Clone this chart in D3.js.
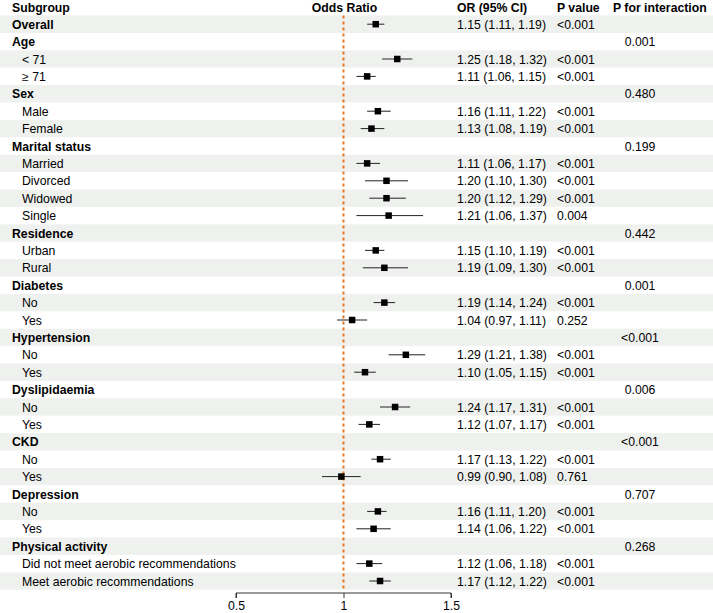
<!DOCTYPE html>
<html>
<head>
<meta charset="utf-8">
<script src="https://d3js.org/d3.v7.min.js"></script>
<style>
  body { margin: 0; background: #fff; }
  text { font-family: "Liberation Sans", Arial, sans-serif; font-size: 12.25px; fill: #000; }
</style>
</head>
<body>
<div id="chart"></div>
<script>
  // Forest plot data
  const labels = ['Overall', 'Age', '< 71', '\u2265 71', 'Sex', 'Male', 'Female',
    'Marital status', 'Married', 'Divorced', 'Widowed', 'Single',
    'Residence', 'Urban', 'Rural', 'Diabetes', 'No', 'Yes',
    'Hypertension', 'No', 'Yes', 'Dyslipidaemia', 'No', 'Yes',
    'CKD', 'No', 'Yes', 'Depression', 'No', 'Yes',
    'Physical activity', 'Did not meet aerobic recommendations', 'Meet aerobic recommendations'];
  // 1 = group heading (bold, not indented)
  const isGroup = [1, 1, 0, 0, 1, 0, 0, 1, 0, 0, 0, 0, 1, 0, 0, 1, 0, 0, 1, 0, 0, 1, 0, 0, 1, 0, 0, 1, 0, 0, 1, 0, 0];
  const orVals = [1.15, null, 1.25, 1.11, null, 1.16, 1.13, null, 1.11, 1.20, 1.20, 1.21, null, 1.15, 1.19, null, 1.19, 1.04, null, 1.29, 1.10, null, 1.24, 1.12, null, 1.17, 0.99, null, 1.16, 1.14, null, 1.12, 1.17];
  const loVals = [1.11, null, 1.18, 1.06, null, 1.11, 1.08, null, 1.06, 1.10, 1.12, 1.06, null, 1.10, 1.09, null, 1.14, 0.97, null, 1.21, 1.05, null, 1.17, 1.07, null, 1.13, 0.90, null, 1.11, 1.06, null, 1.06, 1.12];
  const hiVals = [1.19, null, 1.32, 1.15, null, 1.22, 1.19, null, 1.17, 1.30, 1.29, 1.37, null, 1.19, 1.30, null, 1.24, 1.11, null, 1.38, 1.15, null, 1.31, 1.17, null, 1.22, 1.08, null, 1.20, 1.22, null, 1.18, 1.22];
  const pVals = ['<0.001', '', '<0.001', '<0.001', '', '<0.001', '<0.001', '', '<0.001', '<0.001', '<0.001', '0.004', '', '<0.001', '<0.001', '', '<0.001', '0.252', '', '<0.001', '<0.001', '', '<0.001', '<0.001', '', '<0.001', '0.761', '', '<0.001', '<0.001', '', '<0.001', '<0.001'];
  const pInter = ['', '0.001', '', '', '0.480', '', '', '0.199', '', '', '', '', '0.442', '', '', '0.001', '', '', '<0.001', '', '', '0.006', '', '', '<0.001', '', '', '0.707', '', '', '0.268', '', ''];
  const axisTicks = [0.5, 1, 1.5];

  const width = 713, height = 613;
  const rowH = 17.4, topY = 15.5;

  const svg = d3.select('#chart').append('svg')
    .attr('width', width)
    .attr('height', height);

  const x = d3.scaleLinear().domain([0.5, 1.5]).range([236, 451]);
  const yTop = i => topY + rowH * i;
  const yMid = i => topY + rowH * i + rowH / 2;

  // Alternating row bands
  svg.selectAll('rect.band')
    .data(labels.map((d, i) => i).filter(i => i % 2 === 0))
    .enter()
    .append('rect')
    .attr('class', 'band')
    .attr('x', 0)
    .attr('y', i => yTop(i))
    .attr('width', width)
    .attr('height', rowH)
    .style('fill', '#eff1ef');

  // Column headers
  const headers = [
    {t: 'Subgroup', x: 12, anchor: 'start'},
    {t: 'Odds Ratio', x: x(1) + 1, anchor: 'middle'},
    {t: 'OR (95% CI)', x: 457, anchor: 'start'},
    {t: 'P value', x: 557, anchor: 'start'},
    {t: 'P for interaction', x: 613, anchor: 'start'}
  ];
  svg.selectAll('text.header')
    .data(headers)
    .enter()
    .append('text')
    .attr('class', 'header')
    .attr('x', d => d.x)
    .attr('y', 11.5)
    .style('text-anchor', d => d.anchor)
    .style('font-weight', 'bold')
    .text(d => d.t);

  // Subgroup labels
  svg.selectAll('text.label')
    .data(labels)
    .enter()
    .append('text')
    .attr('class', 'label')
    .attr('x', (d, i) => isGroup[i] ? 12 : 22)
    .attr('y', (d, i) => yMid(i) + 4.6)
    .style('font-weight', (d, i) => isGroup[i] ? 'bold' : 'normal')
    .text(d => d);

  // Reference line at OR = 1
  svg.append('line')
    .attr('x1', x(1)).attr('x2', x(1))
    .attr('y1', yTop(0)).attr('y2', yTop(labels.length))
    .style('stroke', '#e8761f')
    .style('stroke-width', 2)
    .style('stroke-dasharray', '3,3');

  const est = labels.map((d, i) => i).filter(i => orVals[i] !== null);

  // CI lines
  svg.selectAll('line.ci')
    .data(est)
    .enter()
    .append('line')
    .attr('class', 'ci')
    .attr('x1', i => x(loVals[i]))
    .attr('x2', i => x(hiVals[i]))
    .attr('y1', i => yMid(i))
    .attr('y2', i => yMid(i))
    .style('stroke', '#222')
    .style('stroke-width', 1);

  // Point estimates
  const sq = 6.5;
  svg.selectAll('rect.pt')
    .data(est)
    .enter()
    .append('rect')
    .attr('class', 'pt')
    .attr('x', i => x(orVals[i]) - sq / 2)
    .attr('y', i => yMid(i) - sq / 2)
    .attr('width', sq)
    .attr('height', sq)
    .style('fill', '#000');

  // OR (95% CI) text
  svg.selectAll('text.ortxt')
    .data(est)
    .enter()
    .append('text')
    .attr('class', 'ortxt')
    .attr('x', 457)
    .attr('y', i => yMid(i) + 4.6)
    .text(i => `${orVals[i].toFixed(2)} (${loVals[i].toFixed(2)}, ${hiVals[i].toFixed(2)})`);

  // P value
  svg.selectAll('text.pval')
    .data(est)
    .enter()
    .append('text')
    .attr('class', 'pval')
    .attr('x', 557)
    .attr('y', i => yMid(i) + 4.6)
    .text(i => pVals[i]);

  // P for interaction
  svg.selectAll('text.pint')
    .data(labels.map((d, i) => i).filter(i => pInter[i] !== ''))
    .enter()
    .append('text')
    .attr('class', 'pint')
    .attr('x', 640)
    .attr('y', i => yMid(i) + 4.6)
    .style('text-anchor', 'middle')
    .text(i => pInter[i]);

  // X axis
  const axisY = 593;
  const axis = svg.append('g')
    .attr('transform', `translate(0, ${axisY})`)
    .call(d3.axisBottom(x).tickValues(axisTicks).tickSize(5).tickPadding(3).tickFormat(d3.format('')));
  axis.select('.domain').attr('d', `M${x(0.5)},5V0H${x(1.5)}V5`).style('stroke', '#333');
  axis.selectAll('.tick line').style('stroke', '#333');
  axis.selectAll('.tick text')
    .style('font-family', '"Liberation Sans", Arial, sans-serif')
    .style('font-size', '12.25px')
    .style('fill', '#000');
</script>
</body>
</html>
